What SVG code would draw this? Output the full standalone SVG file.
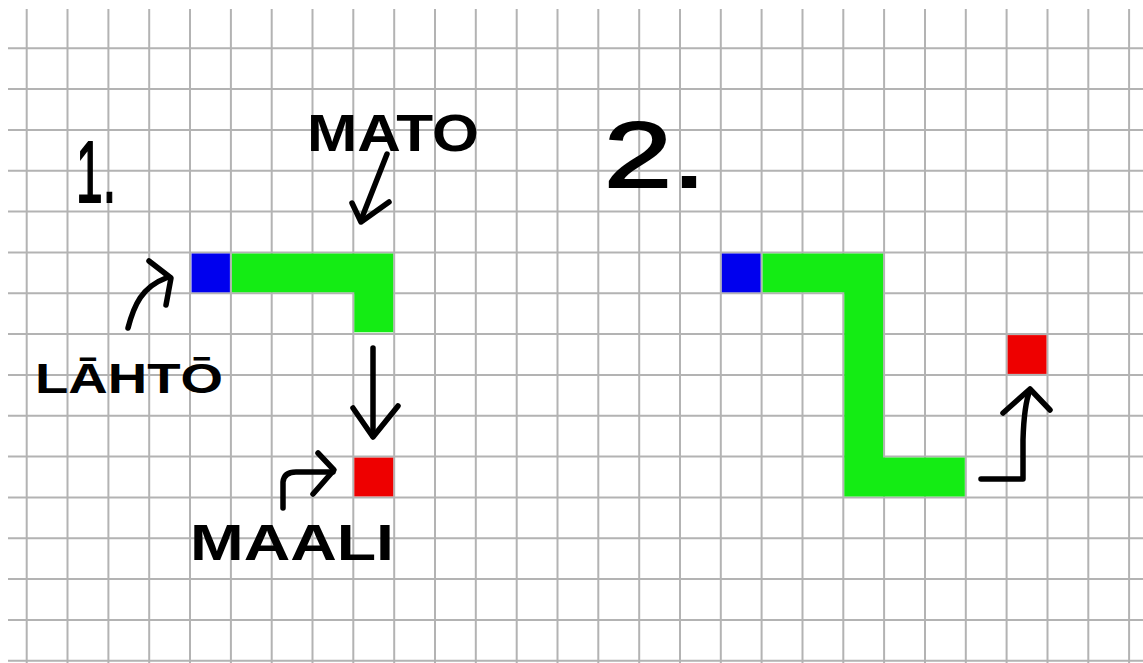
<svg xmlns="http://www.w3.org/2000/svg" width="1143" height="663" viewBox="0 0 1143 663">
<style>
.grid{stroke:#b3b3b3;stroke-width:2;fill:none}
.start{fill:#0000ee}
.worm{fill:#14ec14}
.goal{fill:#ee0000}
.hand{font-family:"Liberation Sans",Arial,sans-serif;font-weight:bold;fill:#000}
.num{font-family:"Liberation Sans",Arial,sans-serif;font-weight:normal;fill:#000;stroke:#000;stroke-width:2}
.arrow{stroke:#000;stroke-width:5.5;fill:none;stroke-linecap:round;stroke-linejoin:round}
</style>
<rect x="0" y="0" width="1143" height="663" fill="#ffffff"/>
<g id="grid">
<path class="grid" d="M26.7 9V663M67.5 9V663M108.4 9V663M149.2 9V663M190 9V663M230.9 9V663M271.7 9V663M312.5 9V663M353.3 9V663M394.2 9V663M435 9V663M475.8 9V663M516.7 9V663M557.5 9V663M598.3 9V663M639.2 9V663M680 9V663M720.8 9V663M761.6 9V663M802.5 9V663M843.3 9V663M884.1 9V663M925 9V663M965.8 9V663M1006.6 9V663M1047.5 9V663M1088.3 9V663M1129.1 9V663"/>
<path class="grid" d="M8 48.3H1143M8 89.1H1143M8 130H1143M8 170.8H1143M8 211.6H1143M8 252.5H1143M8 293.3H1143M8 334.1H1143M8 374.9H1143M8 415.8H1143M8 456.6H1143M8 497.4H1143M8 538.3H1143M8 579.1H1143M8 619.9H1143M8 660.8H1143"/>
</g>
<g id="panel1-title"><text class="num" x="76" y="202" font-size="88" textLength="40" lengthAdjust="spacingAndGlyphs">1.</text></g>
<g id="panel2-title"><text class="num" x="604" y="187" font-size="92" textLength="102" lengthAdjust="spacingAndGlyphs">2.</text></g>
<g id="panel1-start"><rect class="start" x="191.5" y="253.5" width="38.4" height="38.8"/></g>
<g id="panel1-worm"><path class="worm" d="M231.9 253.5H393.2V332.3H354.3V292.3H231.9Z"/></g>
<g id="panel1-goal"><rect class="goal" x="354.3" y="457.6" width="38.9" height="38.8"/></g>
<g id="panel2-start"><rect class="start" x="721.8" y="253.5" width="38.8" height="38.8"/></g>
<g id="panel2-worm"><path class="worm" d="M762.6 253.5H883.1V457.6H964.8V496.4H844.3V292.3H762.6Z"/></g>
<g id="panel2-goal"><rect class="goal" x="1007.6" y="335.1" width="38.9" height="38.8"/></g>
<g id="label-mato"><text class="hand" x="307" y="151" font-size="52" textLength="172" lengthAdjust="spacingAndGlyphs">MATO</text></g>
<g id="label-lahto"><text class="hand" x="35" y="393" font-size="42" textLength="188" lengthAdjust="spacingAndGlyphs">LĀHTŌ</text></g>
<g id="label-maali"><text class="hand" x="190" y="560" font-size="50" textLength="204" lengthAdjust="spacingAndGlyphs">MAALI</text></g>
<g id="connectors">
<path class="arrow" d="M128 328C134 305 142 287 166 278"/>
<path class="arrow" d="M149 261L171 278L166 305"/>
<path class="arrow" d="M387 154L361 220"/>
<path class="arrow" d="M352 203L361 222L389 202"/>
<path class="arrow" d="M373 348V436"/>
<path class="arrow" d="M353 408L373 437L398 406"/>
<path class="arrow" d="M283 508V482Q284 472 296 472H333"/>
<path class="arrow" d="M318 453L334 470L313 494"/>
<path class="arrow" d="M981 479H1023V440Q1024 405 1030 390"/>
<path class="arrow" d="M1003 413L1030 389L1050 410"/>
</g>
</svg>
